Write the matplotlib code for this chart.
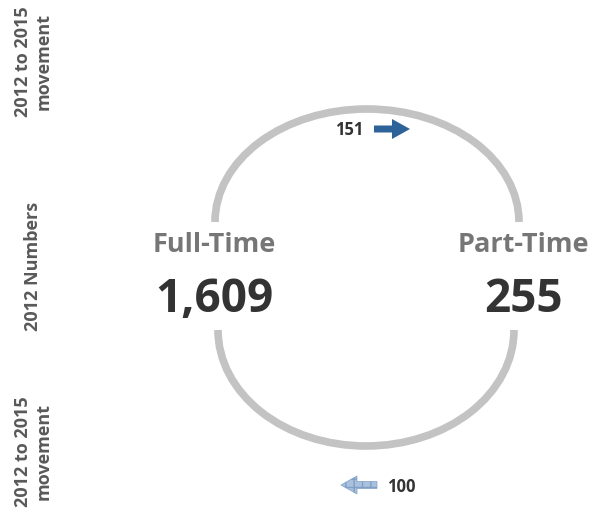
import matplotlib.pyplot as plt
from matplotlib.patches import Arc, FancyArrow

# # Data
#
groups = ['Full-Time', 'Part-Time']
numbers_2012 = [1609, 255]
moves = [151, 100]          # FT -> PT, PT -> FT
side_labels = ['2012 to 2015\nmovement', '2012 Numbers', '2012 to 2015\nmovement']

plt.rcParams['font.family'] = ['Open Sans', 'DejaVu Sans']

fig = plt.figure(figsize=(5.97, 5.08), dpi=100)
ax = fig.add_axes([0, 0, 1, 1])
ax.set_xlim(0, 597)
ax.set_ylim(508, 0)
ax.axis('off')

grey_line = '#c3c3c3'
# top and bottom loops
ax.add_patch(Arc((367, 222), 304, 226, theta1=180, theta2=360, color=grey_line, lw=5.5))
ax.add_patch(Arc((366, 330), 296, 232, theta1=0, theta2=180, color=grey_line, lw=5.5))

# group names and numbers
xs = [214, 523]
for x, name, n in zip(xs, groups, numbers_2012):
    ax.text(x, 245, name, ha='center', va='center', fontsize=19.5, fontweight='bold', color='#767676')
    ax.text(x, 300, f'{n:,}', ha='center', va='center', fontsize=33, fontweight='bold', color='#333333')

# movement FT -> PT
ax.text(349, 130, str(moves[0]), ha='center', va='center', fontsize=12, fontweight='bold', color='#333333')
ax.add_patch(FancyArrow(374, 129, 36, 0, width=7, head_width=20, head_length=18,
                        length_includes_head=True, color='#2e6399', lw=0))

# movement PT -> FT
ax.text(401, 487, str(moves[1]), ha='center', va='center', fontsize=12, fontweight='bold', color='#333333')
ax.add_patch(FancyArrow(377, 485, -36, 0, width=7, head_width=18, head_length=16,
                        length_includes_head=True, facecolor='#a9c1dd', edgecolor='#7f9fc6',
                        hatch='++', lw=0.5))

# side labels
side_y = [62, 266, 452]
for y, lab in zip(side_y, side_labels):
    ax.text(33, y, lab, ha='center', va='center', rotation=90, fontsize=13,
            fontweight='bold', color='#595959', linespacing=1.2)

fig.savefig('out.png', dpi=100)
